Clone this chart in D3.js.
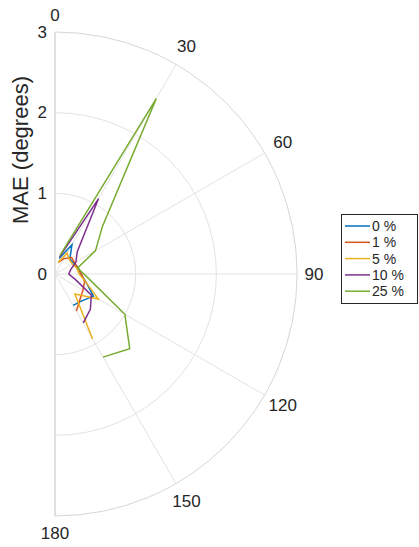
<!DOCTYPE html>
<meta charset="utf-8">
<head>
  <title>MAE polar</title>
  <script src="https://d3js.org/d3.v7.min.js"></script>
</head>
<style>
  body { margin: 0; background: white; }
  text { font-family: "Liberation Sans", Arial, sans-serif; fill: #262626; }
</style>
<body>
<div id="chart"></div>
<script>
  // angles (degrees) and MAE (degrees) per noise level
  var angles = [15, 30, 45, 60, 75, 90, 105, 120, 135, 150]
  var noiseLabels = ["0 %", "1 %", "5 %", "10 %", "25 %"]
  var mae0  = [0.20, 0.42, 0.26, 0.27, 0.30, 0.32, 0.40, 0.55, 0.47, 0.45]
  var mae1  = [0.15, 0.22, 0.29, 0.28, 0.29, 0.33, 0.38, 0.40, 0.44, 0.53]
  var mae5  = [0.15, 0.30, 0.25, 0.25, 0.28, 0.30, 0.40, 0.62, 0.35, 0.93]
  var mae10 = [0.22, 1.08, 0.39, 0.30, 0.20, 0.17, 0.26, 0.52, 0.62, 0.70]
  var mae25 = [0.24, 2.51, 0.83, 0.58, 0.29, 0.36, 0.51, 1.00, 1.31, 1.19]
  var rTicks = [0, 1, 2, 3]
  var thetaTicks = [0, 30, 60, 90, 120, 150, 180]

  var series = [mae0, mae1, mae5, mae10, mae25]
  var colors = ["#0072BD", "#D95319", "#EDB120", "#7E2F8E", "#77AC30"]

  var width = 419, height = 547
  var cx = 55, cy = 274, R = 242

  var svg = d3.select("#chart").append("svg")
    .attr("width", width)
    .attr("height", height)

  var r = d3.scaleLinear().domain([0, 3]).range([0, R])
  var a = d3.scaleLinear().domain([0, 180]).range([0, Math.PI])

  var g = svg.append("g").attr("transform", "translate(" + cx + "," + cy + ")")

  // rings
  rTicks.slice(1).forEach(function (v) {
    var p = d3.path()
    p.arc(0, 0, r(v), -Math.PI / 2, Math.PI / 2)
    g.append("path")
      .attr("d", p.toString())
      .attr("fill", "none")
      .attr("stroke", v == 3 ? "#d6d6d6" : "#e2e2e2")
      .attr("stroke-width", 1)
  })

  // spokes
  thetaTicks.forEach(function (t) {
    g.append("line")
      .attr("x1", 0).attr("y1", 0)
      .attr("x2", R * Math.sin(a(t)))
      .attr("y2", -R * Math.cos(a(t)))
      .attr("stroke", (t == 0 || t == 180) ? "#d6d6d6" : "#e2e2e2")
      .attr("stroke-width", (t == 0 || t == 180) ? 1.5 : 1)
  })

  // theta labels (diagonal ones sit a bit further out, like matlab)
  thetaTicks.forEach(function (t) {
    var off = (t % 90 == 0) ? 17 : 21
    g.append("text")
      .attr("x", (R + off) * Math.sin(a(t)))
      .attr("y", -(R + off) * Math.cos(a(t)))
      .attr("text-anchor", "middle")
      .attr("dominant-baseline", "central")
      .style("font-size", "17px")
      .text(t)
  })

  // r labels
  rTicks.forEach(function (v) {
    g.append("text")
      .attr("x", -8)
      .attr("y", -r(v))
      .attr("text-anchor", "end")
      .attr("dominant-baseline", "central")
      .style("font-size", "17px")
      .text(v)
  })

  // axis label
  svg.append("text")
    .attr("transform", "translate(28,150) rotate(-90)")
    .attr("text-anchor", "middle")
    .style("font-size", "22px")
    .text("MAE (degrees)")

  var line = d3.lineRadial()
    .angle(function (d) { return a(d[0]) })
    .radius(function (d) { return r(d[1]) })

  series.forEach(function (s, i) {
    g.append("path")
      .attr("d", line(angles.map(function (t, j) { return [t, s[j]] })))
      .attr("fill", "none")
      .attr("stroke", colors[i])
      .attr("stroke-width", 1.5)
  })

  // legend
  var lx = 341, ly = 214
  svg.append("rect")
    .attr("x", lx + 0.5).attr("y", ly + 0.5)
    .attr("width", 76).attr("height", 89)
    .attr("fill", "white")
    .attr("stroke", "#262626")
    .attr("stroke-width", 1)

  noiseLabels.forEach(function (name, i) {
    var y = ly + 12 + i * 16.3
    svg.append("line")
      .attr("x1", lx + 4).attr("x2", lx + 29)
      .attr("y1", y).attr("y2", y)
      .attr("stroke", colors[i])
      .attr("stroke-width", 1.5)
    svg.append("text")
      .attr("x", lx + 31)
      .attr("y", y)
      .attr("dominant-baseline", "central")
      .style("font-size", "14px")
      .text(name)
  })
</script>
</body>
